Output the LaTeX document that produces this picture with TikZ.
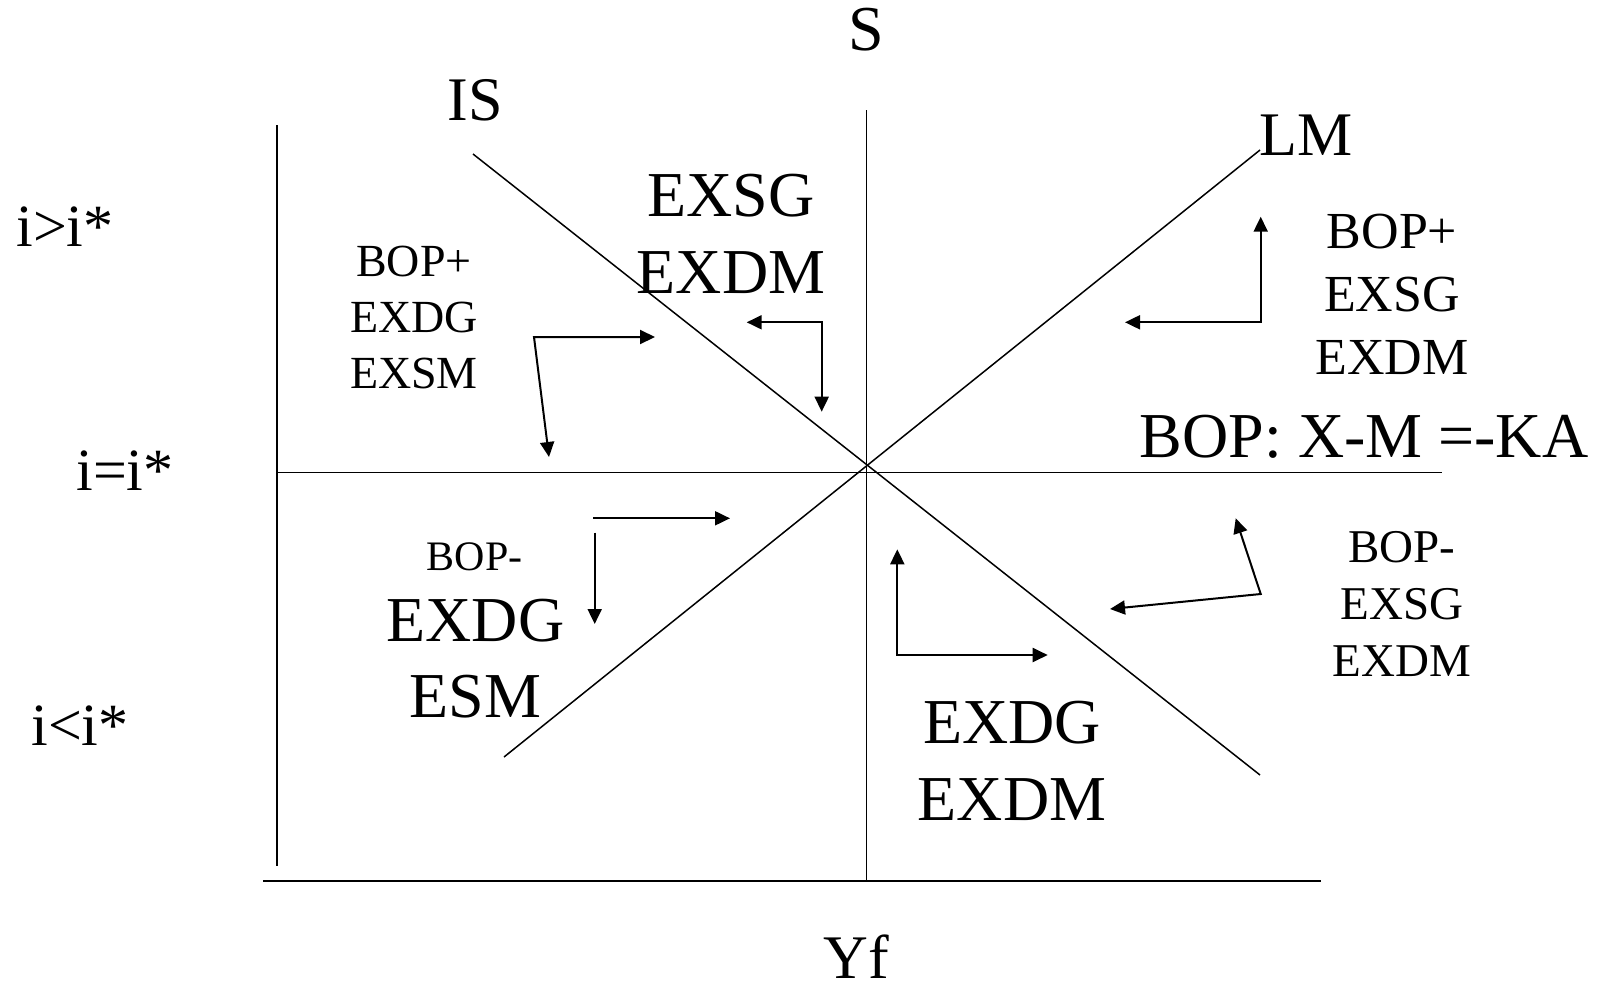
\documentclass[tikz,border=0pt]{standalone}
\usepackage{fontspec}
\setmainfont{Liberation Serif}
\usetikzlibrary{arrows.meta}

\newcommand{\fsz}[2]{\fontsize{#1}{#2}\selectfont}

\begin{document}
\begin{tikzpicture}[x=1pt, y=-1pt, >={Triangle[length=15pt, width=14pt]},
	every node/.style={inner sep=0pt, anchor=base, align=center},
	axis/.style={line width=1.5pt},
	move/.style={line width=2pt}]
	\useasboundingbox (0,0) rectangle (1602,988);
	
	% Axes, full-employment line and the i = i* line
	\coordinate (ytop) at (277,125);
	\coordinate (ybot) at (277,866);
	\coordinate (xl) at (263,881);
	\coordinate (xr) at (1321,881);
	\coordinate (stop) at (866.5,110);
	\coordinate (sbot) at (866.5,881);
	\coordinate (bopl) at (277,472.7);
	\coordinate (bopr) at (1441.7,472.7);
	\draw[axis] (ytop) -- (ybot);
	\draw[axis] (xl) -- (xr);
	\draw[axis] (stop) -- (sbot);
	\draw[axis] (bopl) -- (bopr);
	
	% IS and LM curves
	\coordinate (istop) at (473,154);
	\coordinate (isbot) at (1260,775);
	\coordinate (lmbot) at (504,757);
	\coordinate (lmtop) at (1260,150);
	\draw[axis] (istop) -- (isbot);
	\draw[axis] (lmbot) -- (lmtop);
	
	% Labels of the curves and axes (anchor base = last line)
	\node[font=\fsz{64}{76}] (slab) at (866,50) {S};
	\node[font=\fsz{62}{74}] (islab) at (475,120) {IS};
	\node[font=\fsz{62}{74}] (lmlab) at (1306,155) {LM};
	\node[font=\fsz{62}{74}, text depth=0pt] (yflab) at (856,978) {Yf};
	\node[font=\fsz{60}{72}] (ihigh) at (65,246) {i>i*};
	\node[font=\fsz{60}{72}] (ieq) at (125,490) {i=i*};
	\node[font=\fsz{60}{72}] (ilow) at (80,745) {i<i*};
	\node[font=\fsz{64}{76}] (boplab) at (1364,457) {BOP: X-M =-KA};
	
	% Zone texts
	\node[font=\fsz{64}{77}] (ztop) at (731,293.7) {EXSG\\EXDM};
	\node[font=\fsz{46}{56}] (zleft) at (414,388) {BOP+\\EXDG\\EXSM};
	\node[font=\fsz{52}{63}] (zright) at (1392,374) {BOP+\\EXSG\\EXDM};
	\node[font=\fsz{42}{54}] (zlowl) at (474.5,570) {BOP-};
	\node[font=\fsz{64}{76}] (zlowlb) at (475.5,717) {EXDG\\ESM};
	\node[font=\fsz{47}{57}] (zlowr) at (1402,676) {BOP-\\EXSG\\EXDM};
	\node[font=\fsz{64}{77}] (zbot) at (1012,820) {EXDG\\EXDM};
	
	% Adjustment arrows
	\coordinate (a1) at (549,457);
	\coordinate (c1) at (534,337);
	\coordinate (b1) at (655,337);
	\draw[move, <->] (a1) -- (c1) -- (b1);
	\coordinate (a2) at (746.7,322.3);
	\coordinate (c2) at (821.7,322.3);
	\coordinate (b2) at (821.7,411.7);
	\draw[move, <->] (a2) -- (c2) -- (b2);
	\coordinate (a3) at (1260.7,216.7);
	\coordinate (c3) at (1260.7,322.3);
	\coordinate (b3) at (1125,322.3);
	\draw[move, <->] (a3) -- (c3) -- (b3);
	\coordinate (a4) at (593.3,518.3);
	\coordinate (b4) at (730,518.3);
	\draw[move, ->] (a4) -- (b4);
	\coordinate (a5) at (594.7,532.7);
	\coordinate (b5) at (594.7,624);
	\draw[move, ->] (a5) -- (b5);
	\coordinate (a6) at (897.3,549.3);
	\coordinate (c6) at (897.3,655);
	\coordinate (b6) at (1047.7,655);
	\draw[move, <->] (a6) -- (c6) -- (b6);
	\coordinate (a7) at (1235.7,518.3);
	\coordinate (c7) at (1260.7,594);
	\coordinate (b7) at (1110,609);
	\draw[move, <->] (a7) -- (c7) -- (b7);
\end{tikzpicture}
\end{document}
